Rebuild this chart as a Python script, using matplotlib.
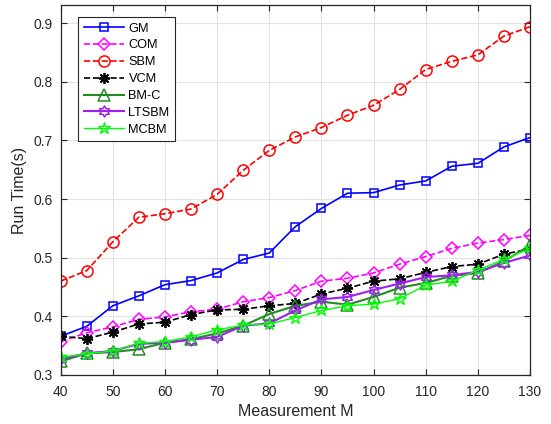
import numpy as np
import matplotlib.pyplot as plt
from matplotlib.path import Path

plt.rcParams['font.family'] = ['Liberation Sans', 'DejaVu Sans']

#### data
M = [40, 45, 50, 55, 60, 65, 70, 75, 80, 85, 90, 95, 100, 105, 110, 115, 120, 125, 130]

gm = [0.366, 0.383, 0.418, 0.435, 0.454, 0.461, 0.474, 0.497, 0.508, 0.553,
      0.584, 0.610, 0.611, 0.624, 0.631, 0.656, 0.661, 0.689, 0.705]
com = [0.357, 0.372, 0.382, 0.395, 0.399, 0.408, 0.412, 0.425, 0.432, 0.444,
       0.460, 0.465, 0.474, 0.489, 0.502, 0.516, 0.525, 0.531, 0.538]
sbm = [0.460, 0.478, 0.527, 0.569, 0.575, 0.583, 0.608, 0.649, 0.683, 0.706,
       0.722, 0.743, 0.760, 0.787, 0.821, 0.835, 0.846, 0.878, 0.894]
vcm = [0.366, 0.362, 0.373, 0.387, 0.390, 0.403, 0.411, 0.412, 0.418, 0.422,
       0.438, 0.448, 0.460, 0.464, 0.475, 0.485, 0.489, 0.506, 0.515]
bmc = [0.323, 0.337, 0.339, 0.344, 0.355, 0.361, 0.371, 0.384, 0.404, 0.418,
       0.425, 0.420, 0.433, 0.449, 0.457, 0.469, 0.474, 0.494, 0.521]
ltsbm = [0.327, 0.337, 0.341, 0.353, 0.355, 0.360, 0.365, 0.384, 0.388, 0.410,
         0.429, 0.433, 0.445, 0.456, 0.467, 0.470, 0.476, 0.491, 0.504]
mcbm = [0.330, 0.336, 0.341, 0.354, 0.357, 0.365, 0.377, 0.385, 0.387, 0.398,
        0.410, 0.418, 0.421, 0.430, 0.453, 0.460, 0.479, 0.497, 0.516]

#### hexagram marker (matlab 'h')
ang = np.pi / 2 + np.arange(12) * np.pi / 6
rad = np.where(np.arange(12) % 2 == 0, 1.0, 1 / np.sqrt(3))
verts = np.column_stack([rad * np.cos(ang), rad * np.sin(ang)])
hexagram = Path(np.vstack([verts, verts[:1]]), closed=True)
# matlab-style asterisk: 4 crossing strokes
asterisk = (8, 2, 0)

fig = plt.figure(figsize=(5.51, 4.24), dpi=100)
ax = fig.add_axes([0.110, 0.1156, 0.852, 0.8726])

mfc = 'none'
ax.plot(M, gm, '-s', color='#0000ff', lw=1.2, ms=6, mfc=mfc, mew=1.1, label='GM')
ax.plot(M, com, '--D', color='#ff00ff', lw=1.2, ms=6, mfc=mfc, mew=1.1, label='COM')
ax.plot(M, sbm, '--o', color='#ff0000', lw=1.2, ms=8, mfc=mfc, mew=1.1, label='SBM')
ax.plot(M, vcm, '--', marker=asterisk, color='black', lw=1.2, ms=8, mew=1.3, label='VCM')
ax.plot(M, bmc, '-^', color='#228b22', lw=1.5, ms=8, mfc=mfc, mew=1.1, label='BM-C')
ax.plot(M, ltsbm, '-', marker=hexagram, color='#a020f0', lw=1.5, ms=8, mfc=mfc, mew=1.1, label='LTSBM')
ax.plot(M, mcbm, '-*', color='#00ff00', lw=1.0, ms=9, mfc=mfc, mew=1.0, label='MCBM')

ax.set_xlim(40, 130)
ax.set_ylim(0.3, 0.931)
ax.set_xticks(np.arange(40, 131, 10))
ax.set_yticks(np.arange(0.3, 0.91, 0.1))
ax.set_yticklabels(['0.3', '0.4', '0.5', '0.6', '0.7', '0.8', '0.9'])
ax.grid(True, color='#e3e3e3', lw=0.8)
ax.set_axisbelow(True)
ax.tick_params(direction='in', top=True, right=True, length=4, labelsize=10,
               colors='#262626')
ax.tick_params(axis='x', pad=7.5)
ax.tick_params(axis='y', pad=5.5)
for s in ax.spines.values():
    s.set_color('#262626')
    s.set_linewidth(0.9)

ax.set_xlabel('Measurement M', fontsize=11.5, color='#262626', labelpad=3)
ax.set_ylabel('Run Time(s)', fontsize=11.5, color='#262626', labelpad=5)

leg = ax.legend(loc='upper left', bbox_to_anchor=(0.037, 0.968), borderaxespad=0,
                fontsize=9.2, fancybox=False, edgecolor='#262626', framealpha=1,
                handlelength=3.15, labelspacing=0.38, borderpad=0.45, handletextpad=0.35)
leg.get_frame().set_linewidth(0.8)

fig.savefig('out.png', dpi=100)
